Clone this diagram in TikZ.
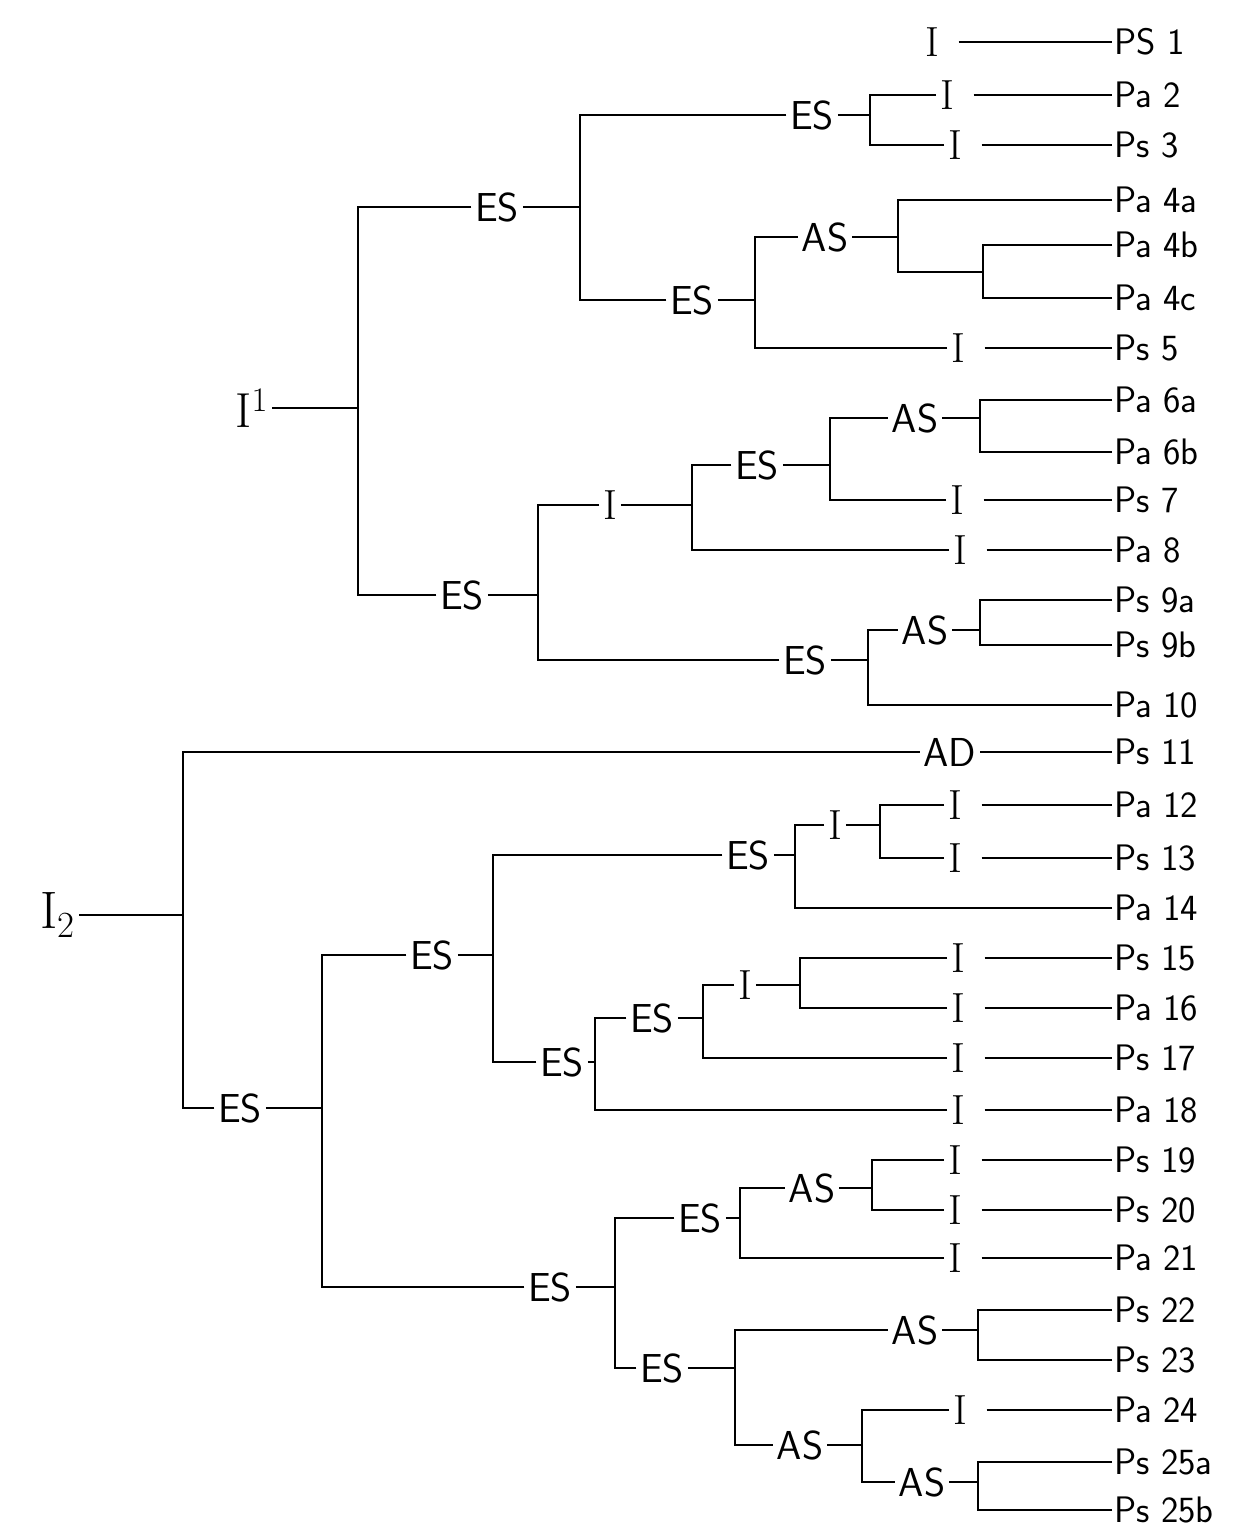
\documentclass[tikz,border=0pt]{standalone}
\usetikzlibrary{positioning, calc}

\begin{document}
\begin{tikzpicture}[
  x=0.02cm, y=-0.02cm,
  %% labels on the inner branches
  tag/.style={
    inner sep=2pt, font=\sffamily\fontsize{23}{25}\selectfont
  },
  %% the I labels
  itag/.style={
    inner sep=2pt, font=\rmfamily\fontsize{24}{26}\selectfont
  },
  %% names at the right margin
  leaf/.style={
    anchor=west, inner sep=1pt, font=\sffamily\fontsize{21}{23}\selectfont
  },
  %% branches
  ln/.style={line width=0.9pt},
  %% line from a tag to its name
  lead/.style={line width=0.9pt, shorten <=9pt}
]
\useasboundingbox (0,0) rectangle (1247,1540);

%% ================================================================
%% NAMES (right margin)
%% ================================================================
\node[leaf] (ps1)   at (1112,42)   {PS 1};
\node[leaf] (pa2)   at (1112,95)   {Pa 2};
\node[leaf] (ps3)   at (1112,145)  {Ps 3};
\node[leaf] (pa4a)  at (1112,200)  {Pa 4a};
\node[leaf] (pa4b)  at (1112,245)  {Pa 4b};
\node[leaf] (pa4c)  at (1112,298)  {Pa 4c};
\node[leaf] (ps5)   at (1112,348)  {Ps 5};
\node[leaf] (pa6a)  at (1112,400)  {Pa 6a};
\node[leaf] (pa6b)  at (1112,452)  {Pa 6b};
\node[leaf] (ps7)   at (1112,500)  {Ps 7};
\node[leaf] (pa8)   at (1112,550)  {Pa 8};
\node[leaf] (ps9a)  at (1112,600)  {Ps 9a};
\node[leaf] (ps9b)  at (1112,645)  {Ps 9b};
\node[leaf] (pa10)  at (1112,705)  {Pa 10};
\node[leaf] (ps11)  at (1112,752)  {Ps 11};
\node[leaf] (pa12)  at (1112,805)  {Pa 12};
\node[leaf] (ps13)  at (1112,858)  {Ps 13};
\node[leaf] (pa14)  at (1112,908)  {Pa 14};
\node[leaf] (ps15)  at (1112,958)  {Ps 15};
\node[leaf] (pa16)  at (1112,1008) {Pa 16};
\node[leaf] (ps17)  at (1112,1058) {Ps 17};
\node[leaf] (pa18)  at (1112,1110) {Pa 18};
\node[leaf] (ps19)  at (1112,1160) {Ps 19};
\node[leaf] (ps20)  at (1112,1210) {Ps 20};
\node[leaf] (pa21)  at (1112,1258) {Pa 21};
\node[leaf] (ps22)  at (1112,1310) {Ps 22};
\node[leaf] (ps23)  at (1112,1360) {Ps 23};
\node[leaf] (pa24)  at (1112,1410) {Pa 24};
\node[leaf] (ps25a) at (1112,1462) {Ps 25a};
\node[leaf] (ps25b) at (1112,1510) {Ps 25b};

%% ================================================================
%% TREE I1
%% ================================================================
\node[itag, font=\rmfamily\fontsize{28}{30}\selectfont] (i1) at (252,408) {I\textsuperscript{1}};
\coordinate (r1) at (358,408);
\draw[ln] (i1.east) -- (r1);

%% upper half
\node[tag] (es1) at (497,207) {ES};
\coordinate (j1) at (580,207);
\draw[ln] (es1.west) -| (r1);
\draw[ln] (es1.east) -- (j1);

\node[tag] (es2) at (812,115) {ES};
\coordinate (j2) at (870,115);
\draw[ln] (es2.west) -| (j1);
\draw[ln] (es2.east) -- (j2);

\node[itag] (t2) at (947,95) {I};
\node[itag] (t3) at (955,145) {I};
\draw[ln] (t2.west) -| (j2);
\draw[ln] (t3.west) -| (j2);
\draw[lead] (t2.east) -- (pa2.west);
\draw[lead] (t3.east) -- (ps3.west);

\node[tag] (es3) at (692,300) {ES};
\coordinate (j3) at (755,300);
\draw[ln] (es3.west) -| (j1);
\draw[ln] (es3.east) -- (j3);

\node[tag] (as1) at (825,237) {AS};
\coordinate (ja1) at (898,237);
\coordinate (u1) at (983,272);
\draw[ln] (as1.west) -| (j3);
\draw[ln] (as1.east) -- (ja1);
\draw[ln] (pa4a.west) -| (ja1);
\draw[ln] (u1) -| (ja1);
\draw[ln] (pa4b.west) -| (u1);
\draw[ln] (pa4c.west) -| (u1);

\node[itag] (t5) at (958,348) {I};
\draw[ln] (t5.west) -| (j3);
\draw[lead] (t5.east) -- (ps5.west);

%% single line at the top
\node[itag] (t1) at (932,42) {I};
\draw[lead] (t1.east) -- (ps1.west);

%% lower half
\node[tag] (es4) at (462,595) {ES};
\coordinate (j4) at (538,595);
\draw[ln] (es4.west) -| (r1);
\draw[ln] (es4.east) -- (j4);

\node[itag] (ta) at (610,505) {I};
\coordinate (ja) at (692,505);
\draw[ln] (ta.west) -| (j4);
\draw[ln] (ta.east) -- (ja);

\node[tag] (es5) at (757,465) {ES};
\coordinate (j5) at (830,465);
\draw[ln] (es5.west) -| (ja);
\draw[ln] (es5.east) -- (j5);

\node[tag] (as2) at (915,418) {AS};
\coordinate (ja2) at (980,418);
\draw[ln] (as2.west) -| (j5);
\draw[ln] (as2.east) -- (ja2);
\draw[ln] (pa6a.west) -| (ja2);
\draw[ln] (pa6b.west) -| (ja2);

\node[itag] (t7) at (957,500) {I};
\draw[ln] (t7.west) -| (j5);
\draw[lead] (t7.east) -- (ps7.west);

\node[itag] (t8) at (960,550) {I};
\draw[ln] (t8.west) -| (ja);
\draw[lead] (t8.east) -- (pa8.west);

\node[tag] (es6) at (805,660) {ES};
\coordinate (j6) at (868,660);
\draw[ln] (es6.west) -| (j4);
\draw[ln] (es6.east) -- (j6);

\node[tag] (as3) at (925,630) {AS};
\coordinate (ja3) at (980,630);
\draw[ln] (as3.west) -| (j6);
\draw[ln] (as3.east) -- (ja3);
\draw[ln] (ps9a.west) -| (ja3);
\draw[ln] (ps9b.west) -| (ja3);
\draw[ln] (pa10.west) -| (j6);

%% ================================================================
%% TREE I2
%% ================================================================
\node[itag, font=\rmfamily\fontsize{30}{32}\selectfont] (i2) at (58,915) {I\textsubscript{2}};
\coordinate (r2) at (183,915);
\draw[ln] (i2.east) -- (r2);

\node[tag] (ad) at (950,752) {AD};
\draw[ln] (ad.west) -| (r2);
\draw[ln] (ad.east) -- (ps11.west);

\node[tag] (es7) at (240,1108) {ES};
\coordinate (j7) at (322,1108);
\draw[ln] (es7.west) -| (r2);
\draw[ln] (es7.east) -- (j7);

%% upper half
\node[tag] (es8) at (432,955) {ES};
\coordinate (j8) at (493,955);
\draw[ln] (es8.west) -| (j7);
\draw[ln] (es8.east) -- (j8);

\node[tag] (es9) at (748,855) {ES};
\coordinate (j9) at (795,855);
\draw[ln] (es9.west) -| (j8);
\draw[ln] (es9.east) -- (j9);

\node[itag] (tb) at (835,825) {I};
\coordinate (jb) at (880,825);
\draw[ln] (tb.west) -| (j9);
\draw[ln] (tb.east) -- (jb);

\node[itag] (t12) at (955,805) {I};
\node[itag] (t13) at (955,858) {I};
\draw[ln] (t12.west) -| (jb);
\draw[ln] (t13.west) -| (jb);
\draw[lead] (t12.east) -- (pa12.west);
\draw[lead] (t13.east) -- (ps13.west);
\draw[ln] (pa14.west) -| (j9);

\node[tag] (es10) at (562,1062) {ES};
\coordinate (j10) at (595,1062);
\draw[ln] (es10.west) -| (j8);
\draw[ln] (es10.east) -- (j10);

\node[tag] (es11) at (652,1018) {ES};
\coordinate (j11) at (703,1018);
\draw[ln] (es11.west) -| (j10);
\draw[ln] (es11.east) -- (j11);

\node[itag] (tc) at (745,985) {I};
\coordinate (jc) at (800,985);
\draw[ln] (tc.west) -| (j11);
\draw[ln] (tc.east) -- (jc);

\node[itag] (t15) at (958,958) {I};
\node[itag] (t16) at (958,1008) {I};
\draw[ln] (t15.west) -| (jc);
\draw[ln] (t16.west) -| (jc);
\draw[lead] (t15.east) -- (ps15.west);
\draw[lead] (t16.east) -- (pa16.west);

\node[itag] (t17) at (958,1058) {I};
\draw[ln] (t17.west) -| (j11);
\draw[lead] (t17.east) -- (ps17.west);

\node[itag] (t18) at (958,1110) {I};
\draw[ln] (t18.west) -| (j10);
\draw[lead] (t18.east) -- (pa18.west);

%% lower half
\node[tag] (es12) at (550,1287) {ES};
\coordinate (j12) at (615,1287);
\draw[ln] (es12.west) -| (j7);
\draw[ln] (es12.east) -- (j12);

\node[tag] (es13) at (700,1218) {ES};
\coordinate (j13) at (740,1218);
\draw[ln] (es13.west) -| (j12);
\draw[ln] (es13.east) -- (j13);

\node[tag] (as4) at (812,1188) {AS};
\coordinate (ja4) at (872,1188);
\draw[ln] (as4.west) -| (j13);
\draw[ln] (as4.east) -- (ja4);

\node[itag] (t19) at (955,1160) {I};
\node[itag] (t20) at (955,1210) {I};
\draw[ln] (t19.west) -| (ja4);
\draw[ln] (t20.west) -| (ja4);
\draw[lead] (t19.east) -- (ps19.west);
\draw[lead] (t20.east) -- (ps20.west);

\node[itag] (t21) at (955,1258) {I};
\draw[ln] (t21.west) -| (j13);
\draw[lead] (t21.east) -- (pa21.west);

\node[tag] (es14) at (662,1368) {ES};
\coordinate (j14) at (735,1368);
\draw[ln] (es14.west) -| (j12);
\draw[ln] (es14.east) -- (j14);

\node[tag] (as5) at (915,1330) {AS};
\coordinate (ja5) at (978,1330);
\draw[ln] (as5.west) -| (j14);
\draw[ln] (as5.east) -- (ja5);
\draw[ln] (ps22.west) -| (ja5);
\draw[ln] (ps23.west) -| (ja5);

\node[tag] (as6) at (800,1445) {AS};
\coordinate (ja6) at (862,1445);
\draw[ln] (as6.west) -| (j14);
\draw[ln] (as6.east) -- (ja6);

\node[itag] (t24) at (960,1410) {I};
\draw[ln] (t24.west) -| (ja6);
\draw[lead] (t24.east) -- (pa24.west);

\node[tag] (as7) at (922,1482) {AS};
\coordinate (ja7) at (978,1482);
\draw[ln] (as7.west) -| (ja6);
\draw[ln] (as7.east) -- (ja7);
\draw[ln] (ps25a.west) -| (ja7);
\draw[ln] (ps25b.west) -| (ja7);

\end{tikzpicture}
\end{document}
